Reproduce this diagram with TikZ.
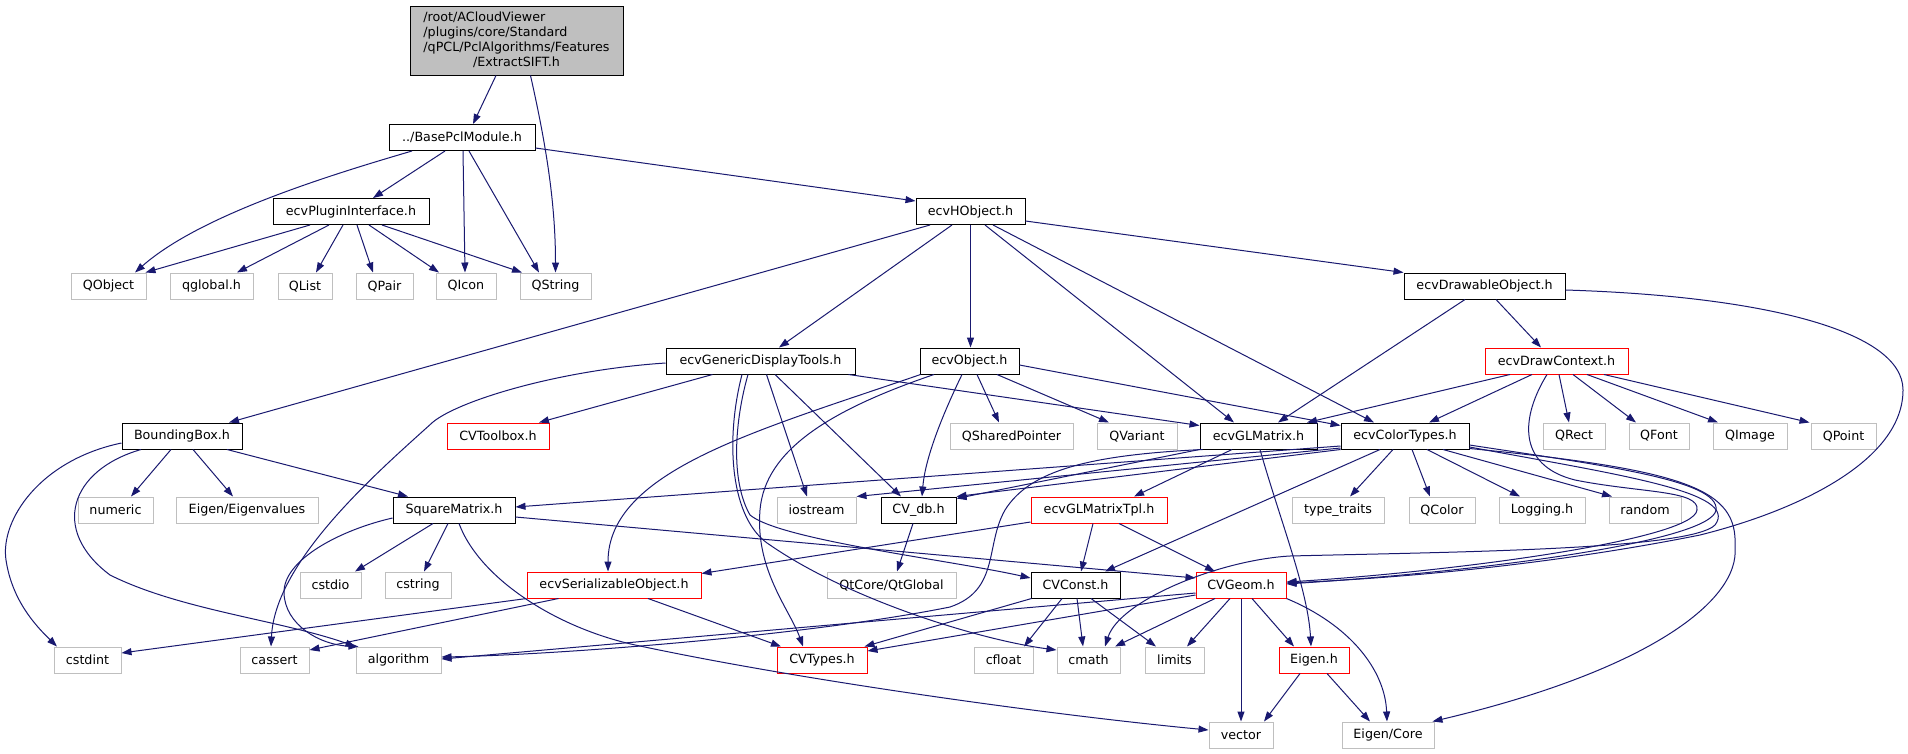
\documentclass[tikz,border=0pt]{standalone}
\usepackage{fontspec}
\setmainfont{DejaVu Sans}
\usetikzlibrary{arrows.meta}
\definecolor{edgec}{RGB}{25,25,112}
\definecolor{greyb}{RGB}{191,191,191}
\definecolor{siftfill}{RGB}{191,191,191}
\definecolor{redb}{RGB}{255,0,0}
\begin{document}
\begin{tikzpicture}[x=1pt,y=-1pt,
  font=\fontsize{12.7}{15}\selectfont,
  nbase/.style={rectangle, inner sep=0pt, minimum height=26pt, fill=white, line width=1pt},
  nb/.style={nbase, draw=black},
  ng/.style={nbase, draw=greyb},
  nr/.style={nbase, draw=redb},
  e/.style={draw=edgec, line width=1pt, -{Triangle[length=10pt,width=7pt]}}]
\fill[white] (0,0) rectangle (1908,753);
\useasboundingbox (0,0) rectangle (1908,753);
% nodes
\node[nb, fill=siftfill, minimum width=213pt, minimum height=69pt] (sift) at (516.5,40.5) {\begin{tabular}{@{}l@{}}/root/ACloudViewer\\/plugins/core/Standard\\/qPCL/PclAlgorithms/Features\\\multicolumn{1}{@{}c@{}}{/ExtractSIFT.h}\end{tabular}};
\node[nb, minimum width=146pt] (base) at (462,137.5) {../BasePclModule.h};
\node[nb, minimum width=156pt] (plugin) at (351,211.5) {ecvPluginInterface.h};
\node[nb, minimum width=109pt] (hobj) at (970.5,211.5) {ecvHObject.h};
\node[ng, minimum width=75pt] (qobject) at (108.5,286) {QObject};
\node[ng, minimum width=83pt] (qglobal) at (211.5,286) {qglobal.h};
\node[ng, minimum width=54pt] (qlist) at (305,286) {QList};
\node[ng, minimum width=57pt] (qpair) at (384.5,286) {QPair};
\node[ng, minimum width=60pt] (qicon) at (466,286) {QIcon};
\node[ng, minimum width=71pt] (qstring) at (555.5,286) {QString};
\node[nb, minimum width=161pt] (drawable) at (1484.5,286) {ecvDrawableObject.h};
\node[nb, minimum width=189pt] (gdt) at (760.5,361) {ecvGenericDisplayTools.h};
\node[nb, minimum width=99pt] (ecvobj) at (969.5,361) {ecvObject.h};
\node[nr, minimum width=143pt] (drawctx) at (1556.5,361) {ecvDrawContext.h};
\node[nb, minimum width=120pt] (bbox) at (182,436) {BoundingBox.h};
\node[nr, minimum width=102pt] (cvtoolbox) at (498,436) {CVToolbox.h};
\node[ng, minimum width=123pt] (qshared) at (1011.5,436) {QSharedPointer};
\node[ng, minimum width=80pt] (qvariant) at (1137,436) {QVariant};
\node[nb, minimum width=117pt] (glmatrix) at (1258.5,436) {ecvGLMatrix.h};
\node[nb, minimum width=128pt] (colortypes) at (1405,436) {ecvColorTypes.h};
\node[ng, minimum width=62pt] (qrect) at (1574,436) {QRect};
\node[ng, minimum width=60pt] (qfont) at (1659,436) {QFont};
\node[ng, minimum width=74pt] (qimage) at (1750,436) {QImage};
\node[ng, minimum width=65pt] (qpoint) at (1843.5,436) {QPoint};
\node[ng, minimum width=75pt] (numeric) at (115.5,510) {numeric};
\node[ng, minimum width=142pt] (eigenvalues) at (247,510) {Eigen/Eigenvalues};
\node[nb, minimum width=122pt] (squarematrix) at (454,510) {SquareMatrix.h};
\node[ng, minimum width=79pt] (iostream) at (816.5,510) {iostream};
\node[nb, minimum width=75pt] (cvdb) at (918.5,510) {CV\_db.h};
\node[nr, minimum width=136pt] (gltpl) at (1099,510) {ecvGLMatrixTpl.h};
\node[ng, minimum width=92pt] (typetraits) at (1338,510) {type\_traits};
\node[ng, minimum width=66pt] (qcolor) at (1442,510) {QColor};
\node[ng, minimum width=86pt] (logging) at (1542,510) {Logging.h};
\node[ng, minimum width=72pt] (random) at (1645,510) {random};
\node[ng, minimum width=61pt] (cstdio) at (330.5,585) {cstdio};
\node[ng, minimum width=66pt] (cstring) at (418,585) {cstring};
\node[nr, minimum width=174pt] (serializable) at (614,585) {ecvSerializableObject.h};
\node[ng, minimum width=129pt] (qtglobal) at (891.5,585) {QtCore/QtGlobal};
\node[nb, minimum width=89pt] (cvconst) at (1075.5,585) {CVConst.h};
\node[nr, minimum width=90pt] (cvgeom) at (1241,585) {CVGeom.h};
\node[ng, minimum width=67pt] (cstdint) at (87.5,660) {cstdint};
\node[ng, minimum width=69pt] (cassert) at (274.5,660) {cassert};
\node[ng, minimum width=85pt] (algorithm) at (398.5,660) {algorithm};
\node[nr, minimum width=90pt] (cvtypes) at (822,660) {CVTypes.h};
\node[ng, minimum width=59pt] (cfloat) at (1003.5,660) {cfloat};
\node[ng, minimum width=63pt] (cmath) at (1088.5,660) {cmath};
\node[ng, minimum width=59pt] (limits) at (1174.5,660) {limits};
\node[nr, minimum width=70pt] (eigenh) at (1314,660) {Eigen.h};
\node[ng, minimum width=64pt] (vector) at (1241,735) {vector};
\node[ng, minimum width=92pt] (eigencore) at (1388,735) {Eigen/Core};
% edges: ExtractSIFT
\draw[e] ([xshift=-20.5pt]sift.south) -- ([xshift=11pt]base.north);
\draw[e] ([xshift=14pt]sift.south) .. controls (545,140) and (555.5,200) .. (qstring.north);
% BasePclModule
\draw[e] ([xshift=-50pt]base.south) .. controls (330,175) and (200,215) .. ([xshift=26.5pt]qobject.north);
\draw[e] ([xshift=-17pt]base.south) -- ([xshift=22pt]plugin.north);
\draw[e] ([xshift=1pt]base.south) -- ([xshift=-1pt]qicon.north);
\draw[e] ([xshift=7pt]base.south) -- ([xshift=-16.5pt]qstring.north);
\draw[e] ([yshift=3pt]base.south east) -- ([yshift=-3pt]hobj.north west);
% ecvPluginInterface
\draw[e] ([xshift=-41pt]plugin.south) -- ([xshift=-1pt]qobject.north east);
\draw[e] ([xshift=-22pt]plugin.south) -- ([xshift=25.5pt]qglobal.north);
\draw[e] ([xshift=-8pt]plugin.south) -- ([xshift=11pt]qlist.north);
\draw[e] ([xshift=6pt]plugin.south) -- ([xshift=-11.5pt]qpair.north);
\draw[e] ([xshift=18pt]plugin.south) -- ([xshift=-27pt]qicon.north);
\draw[e] ([xshift=31pt]plugin.south) -- ([xshift=-33.5pt]qstring.north);
% ecvHObject
\draw[e] ([yshift=-9.5pt]hobj.east) -- (drawable.north west);
\draw[e] ([xshift=-40.5pt]hobj.south) -- ([xshift=47pt]bbox.north);
\draw[e] ([xshift=-18.5pt]hobj.south) -- ([xshift=18.5pt]gdt.north);
\draw[e] (hobj.south) -- (hobj.south |- ecvobj.north);
\draw[e] ([xshift=14.5pt]hobj.south) -- ([xshift=-24.5pt]glmatrix.north);
\draw[e] ([xshift=22.5pt]hobj.south) -- ([xshift=-31pt]colortypes.north);
% ecvDrawableObject
\draw[e] ([xshift=-19.5pt]drawable.south) -- ([xshift=19.5pt]glmatrix.north);
\draw[e] ([xshift=11.5pt]drawable.south) -- ([xshift=-15.5pt]drawctx.north);
\draw[e] ([yshift=-4pt]drawable.east) .. controls (1760,296) and (1903,330) .. (1903,390) .. controls (1903,460) and (1800,510) .. (1700,535) .. controls (1550,565) and (1400,578) .. ([yshift=2pt]cvgeom.east);
% ecvDrawContext
\draw[e] ([xshift=-46.5pt]drawctx.south) -- ([xshift=48.5pt]glmatrix.north);
\draw[e] ([xshift=-24.5pt]drawctx.south) -- ([xshift=24pt]colortypes.north);
\draw[e] ([xshift=2.5pt]drawctx.south) -- ([xshift=-5pt]qrect.north);
\draw[e] ([xshift=16.5pt]drawctx.south) -- ([xshift=-23pt]qfont.north);
\draw[e] ([xshift=30.5pt]drawctx.south) -- ([xshift=-32pt]qimage.north);
\draw[e] ([xshift=47.5pt]drawctx.south) -- ([xshift=-34pt]qpoint.north);
\draw[e] ([xshift=-9.5pt]drawctx.south) .. controls (1522,415) and (1515,465) .. (1575,480) .. controls (1640,493) and (1700,490) .. (1697,510) .. controls (1694,540) and (1450,572) .. ([yshift=3pt]cvgeom.east);
% ecvColorTypes
\draw[e] ([yshift=-10pt]colortypes.west) -- ([yshift=3pt]squarematrix.east);
\draw[e] ([yshift=-12pt]colortypes.west) -- (iostream.north east);
\draw[e] (colortypes.south west) -- (cvdb.north east);
\draw[e] ([xshift=-25pt]colortypes.south) -- ([xshift=29.5pt]cvconst.north);
\draw[e] ([xshift=-12pt]colortypes.south) -- ([xshift=12pt]typetraits.north);
\draw[e] ([xshift=7pt]colortypes.south) -- ([xshift=-12pt]qcolor.north);
\draw[e] ([xshift=22pt]colortypes.south) -- ([xshift=-22pt]logging.north);
\draw[e] ([xshift=38pt]colortypes.south) -- ([xshift=-33pt]random.north);
\draw[e] ([yshift=-9pt]colortypes.east) .. controls (1600,465) and (1720,480) .. (1716,510) .. controls (1712,540) and (1500,570) .. ([yshift=1pt]cvgeom.east);
\draw[e] ([yshift=-11pt]colortypes.east) .. controls (1620,475) and (1740,492) .. (1715,525) .. controls (1690,550) and (1450,552) .. (1290,556) .. controls (1220,560) and (1120,600) .. ([xshift=16.5pt]cmath.north);
\draw[e] ([yshift=-12.5pt]colortypes.east) .. controls (1690,470) and (1738,490) .. (1735,547) .. controls (1740,600) and (1650,670) .. ([xshift=-2pt]eigencore.north east);
% ecvGLMatrix
\draw[e] (glmatrix.south west) -- ([yshift=-2pt]cvdb.north east);
\draw[e] ([xshift=-26.5pt]glmatrix.south) -- ([xshift=35pt]gltpl.north);
\draw[e] ([xshift=1.5pt]glmatrix.south) .. controls (1280,520) and (1308,590) .. ([xshift=-3pt]eigenh.north);
\draw[e] ([xshift=3pt]glmatrix.south west) .. controls (1090,455) and (1030,470) .. (1005,510) .. controls (985,545) and (1000,590) .. (950,607) .. controls (800,637) and (550,655) .. ([yshift=3pt]algorithm.east);
% CVGeom
\draw[e] ([yshift=-8pt]cvgeom.west) -- ([yshift=1pt]algorithm.east);
\draw[e] ([yshift=-10pt]cvgeom.west) -- ([yshift=9pt]cvtypes.east);
\draw[e] ([xshift=-26pt]cvgeom.south) -- ([xshift=26.5pt]cmath.north);
\draw[e] ([xshift=-11pt]cvgeom.south) -- ([xshift=12.5pt]limits.north);
\draw[e] (cvgeom.south) -- (vector.north);
\draw[e] ([xshift=11pt]cvgeom.south) -- ([xshift=-20pt]eigenh.north);
\draw[e] (cvgeom.south east) .. controls (1350,625) and (1385,670) .. ([xshift=-1pt]eigencore.north);
% Eigen.h
\draw[e] ([xshift=-14pt]eigenh.south) -- ([xshift=23pt]vector.north);
\draw[e] ([xshift=13pt]eigenh.south) -- ([xshift=-18pt]eigencore.north);
% CVConst
\draw[e] ([xshift=1pt]cvconst.south west) -- ([xshift=-3pt]cvtypes.north east);
\draw[e] ([xshift=-13.5pt]cvconst.south) -- ([xshift=20.5pt]cfloat.north);
\draw[e] ([xshift=1.5pt]cvconst.south) -- ([xshift=-5.5pt]cmath.north);
\draw[e] ([xshift=15.5pt]cvconst.south) -- ([xshift=-18.5pt]limits.north);
% ecvGLMatrixTpl
\draw[e] ([yshift=-12pt]gltpl.west) -- ([yshift=-2pt]serializable.north east);
\draw[e] ([xshift=-6pt]gltpl.south) -- ([xshift=5.5pt]cvconst.north);
\draw[e] ([xshift=20pt]gltpl.south) -- ([xshift=-26pt]cvgeom.north);
% CV_db
\draw[e] ([xshift=-5.5pt]cvdb.south) -- ([xshift=5.5pt]qtglobal.north);
% ecvSerializableObject
\draw[e] (serializable.south west) -- ([yshift=7pt]cstdint.east);
\draw[e] ([xshift=32pt]serializable.south west) -- ([yshift=10pt]cassert.east);
\draw[e] ([xshift=34pt]serializable.south) -- ([xshift=-41pt]cvtypes.north);
% SquareMatrix
\draw[e] ([xshift=-21pt]squarematrix.south) -- ([xshift=24.5pt]cstdio.north);
\draw[e] ([xshift=-6pt]squarematrix.south) -- ([xshift=6pt]cstring.north);
\draw[e] ([yshift=-8pt]squarematrix.west) .. controls (340,530) and (283,560) .. (284,593) .. controls (285,625) and (320,645) .. ([xshift=3pt]algorithm.north west);
\draw[e] ([xshift=5pt]squarematrix.south) .. controls (480,580) and (560,630) .. (640,646) .. controls (800,680) and (1050,715) .. ([yshift=5pt]vector.west);
\draw[e] ([yshift=-7pt]squarematrix.east) -- ([yshift=7pt]cvgeom.west);
% BoundingBox
\draw[e] ([xshift=-11pt]bbox.south) -- ([xshift=15.5pt]numeric.north);
\draw[e] ([xshift=11pt]bbox.south) -- ([xshift=-14pt]eigenvalues.north);
\draw[e] ([xshift=45pt]bbox.south) -- ([xshift=-46pt]squarematrix.north);
\draw[e] ([yshift=-7pt]bbox.west) .. controls (40,460) and (0,520) .. (6,560) .. controls (12,600) and (35,625) .. ([xshift=-30.5pt]cstdint.north);
\draw[e] ([xshift=-41pt]bbox.south) .. controls (70,470) and (50,530) .. (110,575) .. controls (180,610) and (280,620) .. (algorithm.north west);
% ecvGenericDisplayTools
\draw[e] ([xshift=-48pt]gdt.south) -- ([xshift=41pt]cvtoolbox.north);
\draw[e] ([xshift=-7pt]gdt.south east) -- ([yshift=-3pt]glmatrix.north west);
\draw[e] ([xshift=6pt]gdt.south) -- ([xshift=-9.5pt]iostream.north);
\draw[e] ([xshift=14.5pt]gdt.south) -- ([xshift=-17.5pt]cvdb.north);
\draw[e] ([yshift=-2pt]gdt.west) .. controls (560,370) and (460,400) .. (433,422) .. controls (380,470) and (275,560) .. ([xshift=-3.5pt]cassert.north);
\draw[e] ([xshift=-12.5pt]gdt.south) .. controls (735,420) and (730,480) .. (750,515) .. controls (780,540) and (950,560) .. ([yshift=7pt]cvconst.west);
\draw[e] ([xshift=-18.5pt]gdt.south) .. controls (725,440) and (730,520) .. (770,545) .. controls (850,600) and (980,640) .. ([yshift=10pt]cmath.west);
% ecvObject
\draw[e] ([xshift=-35.5pt]ecvobj.south) .. controls (830,410) and (765,450) .. (760,510) .. controls (755,570) and (790,610) .. ([xshift=-19pt]cvtypes.north);
\draw[e] ([xshift=1pt]ecvobj.south west) .. controls (760,430) and (608,470) .. ([xshift=-6pt]serializable.north);
\draw[e] ([xshift=-7.5pt]ecvobj.south) .. controls (940,420) and (925,460) .. ([xshift=3.5pt]cvdb.north);
\draw[e] ([xshift=7.5pt]ecvobj.south) -- ([xshift=-12.5pt]qshared.north);
\draw[e] ([xshift=27.5pt]ecvobj.south) -- ([xshift=-28pt]qvariant.north);
\draw[e] ([yshift=-4pt]ecvobj.east) -- ([yshift=-3pt]colortypes.north west);
\end{tikzpicture}
\end{document}
